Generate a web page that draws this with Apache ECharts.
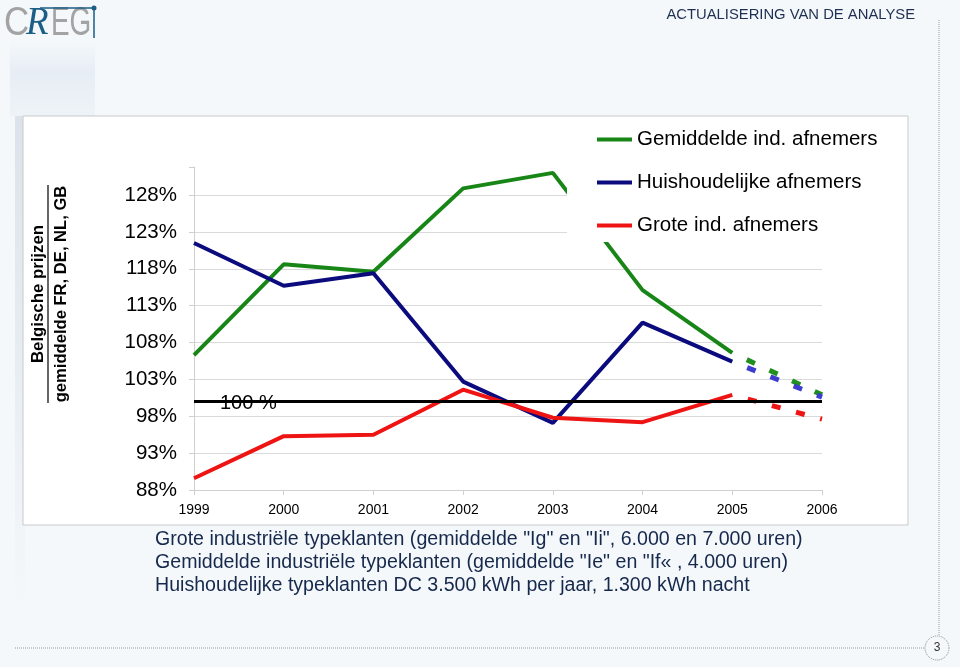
<!DOCTYPE html>
<html>
<head>
<meta charset="utf-8">
<script src="https://cdn.jsdelivr.net/npm/echarts@6/dist/echarts.min.js"></script>
<style>
html,body{margin:0;padding:0;background:#f4f8fb;}
#chart{width:960px;height:667px;}
</style>
</head>
<body>
<div id="chart"></div>
<script>
// ---- data ----
const years = ['1999', '2000', '2001', '2002', '2003', '2004', '2005', '2006'];
const seriesNames = ['Gemiddelde ind. afnemers', 'Huishoudelijke afnemers', 'Grote ind. afnemers'];
const gemiddeldeInd = [106.3, 118.6, 117.6, 128.9, 131.0, 115.1, 106.6, null];
const gemiddeldeIndProj = [null, null, null, null, null, null, 106.6, 100.9];
const huishoudelijk = [121.5, 115.7, 117.4, 102.7, 97.1, 110.7, 105.4, null];
const huishoudelijkProj = [null, null, null, null, null, null, 105.4, 100.6];
const groteInd = [89.6, 95.3, 95.5, 101.6, 97.8, 97.2, 100.9, null];
const groteIndProj = [null, null, null, null, null, null, 100.9, 97.6];
const refLevel = 100;
const refLabel = '100 %';
const yMin = 88, yMax = 131.8, yStep = 5;
const yTitleTop = 'Belgische prijzen';
const yTitleBottom = 'gemiddelde FR, DE, NL, GB';
const pageTitle = 'ACTUALISERING VAN DE ANALYSE';
const notes = [
  'Grote industriële typeklanten (gemiddelde "Ig" en "Ii", 6.000 en 7.000 uren)',
  'Gemiddelde industriële typeklanten (gemiddelde "Ie" en "If« , 4.000 uren)',
  'Huishoudelijke typeklanten DC 3.500 kWh per jaar, 1.300 kWh nacht'
];
const pageNumber = '3';

// ---- chart ----
const FONT = '"Liberation Sans", Arial, Helvetica, sans-serif';
const GREEN = '#178617', BLUE = '#0b0b7e', RED = '#ee1414';
const chart = echarts.init(document.getElementById('chart'), null, {renderer: 'canvas'});

const splitColors = [];
for (let v = yMin; v <= yMax + 1e-9; v += yStep) splitColors.push('#dadada');
splitColors.push('rgba(0,0,0,0)');

const dashStyle = {width: 5, type: [0, 16, 9, 0]};

const option = {
  animation: false,
  backgroundColor: '#f4f8fb',
  grid: {left: 194, right: 138, top: 167, bottom: 177, containLabel: false},
  legend: {
    data: seriesNames,
    orient: 'vertical',
    left: 567, top: 118,
    padding: [11, 24, 6, 30],
    itemGap: 22,
    itemWidth: 35, itemHeight: 4,
    icon: 'rect',
    backgroundColor: '#ffffff',
    textStyle: {fontFamily: FONT, fontSize: 20.5, color: '#000'},
    z: 5
  },
  xAxis: {
    type: 'category',
    data: years,
    boundaryGap: false,
    axisLine: {lineStyle: {color: '#cfcfcf', width: 1}},
    axisTick: {show: true, length: 5, lineStyle: {color: '#cfcfcf'}},
    axisLabel: {fontFamily: FONT, fontSize: 14, color: '#000', margin: 13},
    splitLine: {show: false}
  },
  yAxis: {
    type: 'value',
    min: yMin, max: yMax, interval: yStep,
    axisLine: {show: true, lineStyle: {color: '#cfcfcf', width: 1}},
    axisTick: {show: true, length: 5, lineStyle: {color: '#cfcfcf'}},
    axisLabel: {
      fontFamily: FONT, fontSize: 20.5, color: '#000', margin: 17,
      formatter: function (v) { return (Math.abs((v - yMin) % yStep) < 1e-6) ? Math.round(v) + '%' : ''; }
    },
    splitLine: {show: true, lineStyle: {color: splitColors, width: 1}}
  },
  series: [
    {
      name: seriesNames[0], type: 'line', data: gemiddeldeInd, symbol: 'none',
      lineStyle: {color: GREEN, width: 4}, itemStyle: {color: GREEN}, z: 3
    },
    {
      name: seriesNames[1], type: 'line', data: huishoudelijk, symbol: 'none',
      lineStyle: {color: BLUE, width: 4}, itemStyle: {color: BLUE}, z: 3,
      markLine: {
        silent: true, symbol: 'none',
        lineStyle: {color: '#000', width: 3, type: 'solid'},
        label: {show: false},
        data: [{yAxis: refLevel}]
      }
    },
    {
      name: seriesNames[2], type: 'line', data: groteInd, symbol: 'none',
      lineStyle: {color: RED, width: 4}, itemStyle: {color: RED}, z: 3
    },
    {
      name: seriesNames[0] + ' (prognose)', type: 'line', data: gemiddeldeIndProj, symbol: 'none',
      lineStyle: Object.assign({color: '#1f8f1f'}, dashStyle), z: 3
    },
    {
      name: seriesNames[1] + ' (prognose)', type: 'line', data: huishoudelijkProj, symbol: 'none',
      lineStyle: Object.assign({color: '#3c3cd0'}, dashStyle), z: 3
    },
    {
      name: seriesNames[2] + ' (prognose)', type: 'line', data: groteIndProj, symbol: 'none',
      lineStyle: Object.assign({color: RED}, dashStyle), z: 3
    }
  ],
  graphic: {
    elements: [
      // soft shadows
      {type: 'rect', z: -20, shape: {x: 10, y: 42, width: 85, height: 74},
        style: {fill: new echarts.graphic.LinearGradient(0, 0, 0, 1, [
          {offset: 0, color: 'rgba(220,228,238,0.0)'},
          {offset: 0.4, color: 'rgba(220,228,238,0.55)'},
          {offset: 1, color: 'rgba(220,228,238,0.25)'}])}},
      {type: 'rect', z: -20, shape: {x: 15, y: 116, width: 10, height: 500},
        style: {fill: new echarts.graphic.LinearGradient(0, 0, 0, 1, [
          {offset: 0, color: 'rgba(205,212,222,0.6)'},
          {offset: 1, color: 'rgba(205,212,222,0.0)'}])}},
      // chart frame
      {type: 'rect', z: -10, shape: {x: 23, y: 116, width: 885, height: 409},
        style: {fill: '#ffffff', stroke: '#c9c9c9', lineWidth: 1}},
      // logo
      {type: 'text', z: 10, x: 4, y: 3, scaleX: 0.85, style: {text: 'C', font: '41px ' + FONT, fill: '#a3a3a3'}},
      {type: 'text', z: 10, x: 26, y: 3, scaleX: 0.9, style: {text: 'R', font: 'italic 41px "Liberation Serif", serif', fill: '#1b5e86'}},
      {type: 'text', z: 10, x: 51, y: 3, scaleX: 0.68, style: {text: 'EG', font: '41px ' + FONT, fill: '#a3a3a3'}},
      {type: 'line', z: 10, shape: {x1: 40, y1: 8, x2: 94, y2: 8}, style: {stroke: '#1b5e86', lineWidth: 1.5}},
      {type: 'line', z: 10, shape: {x1: 94, y1: 8, x2: 94, y2: 38}, style: {stroke: '#1b5e86', lineWidth: 1.5}},
      {type: 'circle', z: 10, shape: {cx: 94, cy: 8, r: 2.5}, style: {fill: '#1b5e86'}},
      // page title
      {type: 'text', z: 10, x: 915, y: 15, style: {text: pageTitle, font: '14.8px ' + FONT, fill: '#1e2f52', align: 'right', verticalAlign: 'middle'}},
      // dotted page decoration
      {type: 'line', z: 10, shape: {x1: 939, y1: 20, x2: 939, y2: 636}, style: {stroke: '#9a9a9a', lineWidth: 1, lineDash: [1, 1]}},
      {type: 'line', z: 10, shape: {x1: 15, y1: 648, x2: 925, y2: 648}, style: {stroke: '#9a9a9a', lineWidth: 1, lineDash: [1, 1]}},
      {type: 'circle', z: 10, shape: {cx: 937, cy: 648, r: 12}, style: {fill: '#f4f8fb', stroke: '#8a8a8a', lineWidth: 1, lineDash: [1, 1]}},
      {type: 'text', z: 11, x: 937, y: 648, style: {text: pageNumber, font: '12px ' + FONT, fill: '#333', align: 'center', verticalAlign: 'middle'}},
      // y axis title (fraction)
      {type: 'text', z: 10, x: 38, y: 294, rotation: Math.PI / 2,
        style: {text: yTitleTop, font: 'bold 16.8px ' + FONT, fill: '#000', align: 'center', verticalAlign: 'middle'}},
      {type: 'line', z: 10, shape: {x1: 48, y1: 185, x2: 48, y2: 403}, style: {stroke: '#000', lineWidth: 1.2}},
      {type: 'text', z: 10, x: 61, y: 294, rotation: Math.PI / 2,
        style: {text: yTitleBottom, font: 'bold 16.6px ' + FONT, fill: '#000', align: 'center', verticalAlign: 'middle'}},
      // 100 % label
      {type: 'text', z: 1, x: 220, y: 403, style: {text: refLabel, font: '20px ' + FONT, fill: '#000', verticalAlign: 'middle'}},
      // notes
      {type: 'text', z: 10, x: 155, y: 540, style: {text: notes[0], font: '19.6px ' + FONT, fill: '#16284c', verticalAlign: 'middle'}},
      {type: 'text', z: 10, x: 155, y: 563, style: {text: notes[1], font: '19.6px ' + FONT, fill: '#16284c', verticalAlign: 'middle'}},
      {type: 'text', z: 10, x: 155, y: 586, style: {text: notes[2], font: '19.6px ' + FONT, fill: '#16284c', verticalAlign: 'middle'}}
    ]
  }
};
chart.setOption(option);
</script>
</body>
</html>
